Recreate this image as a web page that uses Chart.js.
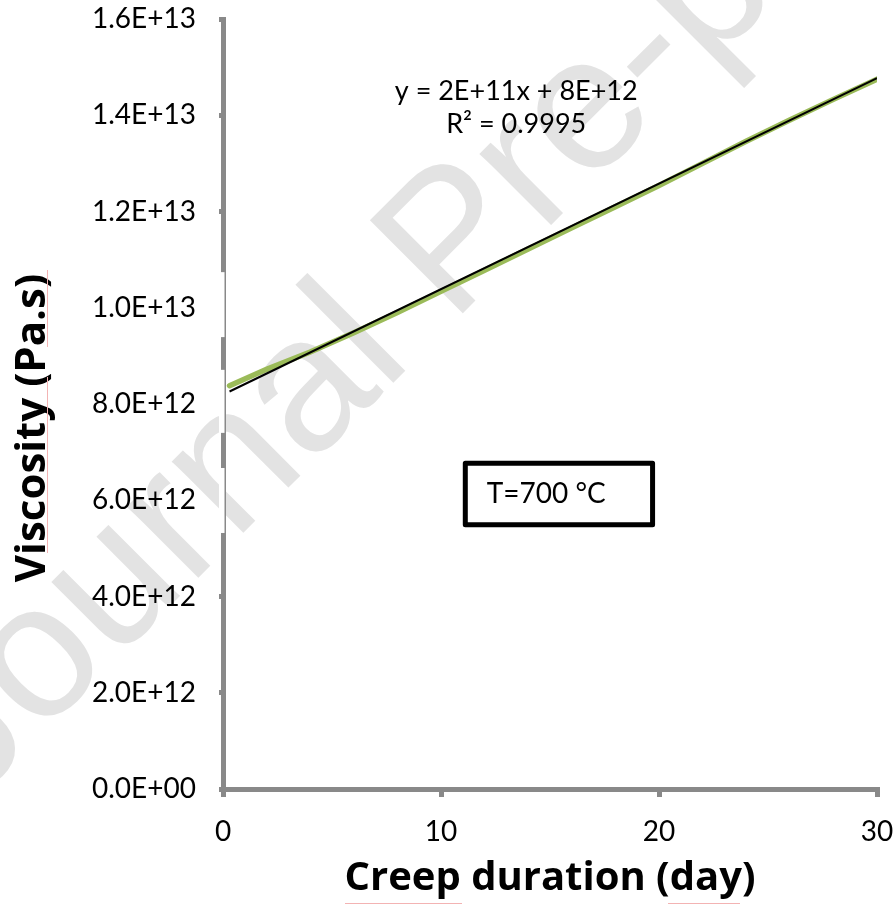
<!DOCTYPE html>
<html><head><meta charset="utf-8">
<script src="https://cdn.jsdelivr.net/npm/chart.js@4"></script>
<style>html,body{margin:0;padding:0;background:#fff}canvas{display:block}</style>
</head><body>
<canvas id="c" width="896" height="911"></canvas>
<script>
// ---- data ----
const creepDays = [0.3, 2, 4, 6, 8, 10, 12, 14, 16, 18, 20, 22, 24, 26, 28, 30];
const viscosity = [8.38e12, 8.72e12, 9.08e12, 9.48e12, 9.90e12, 10.34e12, 10.78e12, 11.22e12,
                   11.66e12, 12.10e12, 12.54e12, 13.00e12, 13.46e12, 13.90e12, 14.33e12, 14.75e12];
const trendDays = [0.3, 30];
const trendViscosity = [8.26e12, 14.77e12];
const xTickValues = [0, 10, 20, 30];
const yTickValues = [0, 2e12, 4e12, 6e12, 8e12, 1e13, 1.2e13, 1.4e13, 1.6e13];
const xTitle = 'Creep duration (day)';
const yTitle = 'Viscosity (Pa.s)';
const equationLines = ['y = 2E+11x + 8E+12', 'R\u00B2 = 0.9995'];
const boxLabel = 'T=700 \u00B0C';
const watermarkText = 'Journal Pre-proof';

const GRAY = '#898989';
const PINK = '#f3b3b3';

function sci(v) {
  if (v === 0) return '0.0E+00';
  const e = Math.floor(Math.log10(v) + 1e-9);
  const m = v / Math.pow(10, e);
  return m.toFixed(1) + 'E+' + String(e).padStart(2, '0');
}

const decorations = {
  id: 'decorations',
  beforeDraw(chart) {
    const ctx = chart.ctx;
    ctx.save();
    ctx.fillStyle = '#ffffff';
    ctx.fillRect(0, 0, chart.width, chart.height);
    // watermark
    ctx.translate(493, 283);
    ctx.rotate(-Math.PI / 4);
    ctx.font = '191px "Liberation Sans", Arial, sans-serif';
    ctx.fillStyle = '#e3e3e3';
    ctx.textAlign = 'center';
    ctx.textBaseline = 'alphabetic';
    ctx.fillText(watermarkText, 0, 0);
    ctx.restore();
  },
  afterDraw(chart) {
    const ctx = chart.ctx;
    const xs = chart.scales.x, ys = chart.scales.y;
    const X = v => xs.getPixelForValue(v), Y = v => ys.getPixelForValue(v);
    ctx.save();
    // masked part of the y axis (artifact in the reference)
    ctx.fillStyle = '#ffffff';
    const ax = chart.chartArea.left;
    [[10.74e12, 9.39e12], [8.71e12, 7.40e12], [6.67e12, 5.32e12]].forEach(([a, b]) => {
      ctx.fillRect(ax - 4, Y(a), 5.5, Y(b) - Y(a));
    });
    // y axis title
    ctx.save();
    ctx.translate(33, 428);
    ctx.rotate(-Math.PI / 2);
    ctx.fillStyle = '#000';
    ctx.font = 'bold 42px "Open Sans"';
    ctx.textAlign = 'center';
    ctx.textBaseline = 'middle';
    ctx.fillText(yTitle, 0, 0);
    ctx.restore();
    // spell-check underlines seen in the reference
    ctx.strokeStyle = PINK;
    ctx.lineWidth = 1;
    ctx.beginPath();
    ctx.moveTo(47.5, 270); ctx.lineTo(47.5, 347);
    ctx.moveTo(47.5, 377); ctx.lineTo(47.5, 553);
    ctx.moveTo(345, 903.5); ctx.lineTo(462, 903.5);
    ctx.moveTo(668, 903.5); ctx.lineTo(740, 903.5);
    ctx.stroke();
    // equation
    ctx.fillStyle = '#000';
    ctx.font = '27px Lato';
    ctx.textAlign = 'center';
    ctx.textBaseline = 'middle';
    ctx.fillText(equationLines[0], X(13.45), Y(14.5e12));
    ctx.fillText(equationLines[1], X(13.45), Y(14.5e12) + 33);
    // label box
    const l = X(11.0), r = X(19.82), t = Y(6.82e12), b = Y(5.44e12);
    ctx.lineWidth = 5;
    ctx.lineJoin = 'round';
    ctx.strokeStyle = '#000';
    ctx.strokeRect(l + 2.5, t + 2.5, r - l - 5, b - t - 5);
    ctx.font = '28px Lato';
    ctx.textAlign = 'left';
    ctx.fillText(boxLabel, X(12.1), (t + b) / 2);
    ctx.restore();
  }
};

function build() {
  new Chart(document.getElementById('c'), {
    type: 'scatter',
    data: {
      datasets: [
        {
          label: 'Linear trend',
          data: trendDays.map((x, i) => ({ x, y: trendViscosity[i] })),
          showLine: true, borderColor: '#000000', backgroundColor: '#000000',
          borderWidth: 2, pointRadius: 0, tension: 0
        },
        {
          label: 'Viscosity',
          data: creepDays.map((x, i) => ({ x, y: viscosity[i] })),
          showLine: true, borderColor: '#9bbb59', backgroundColor: '#9bbb59',
          borderWidth: 5.5, pointRadius: 0, tension: 0, borderCapStyle: 'round'
        }
      ]
    },
    options: {
      responsive: false, animation: false, devicePixelRatio: 1,
      layout: { padding: { top: 19, right: 19, left: 0, bottom: 0 } },
      plugins: { legend: { display: false }, tooltip: { enabled: false } },
      scales: {
        x: {
          type: 'linear', min: 0, max: 30,
          afterBuildTicks: s => { s.ticks = xTickValues.map(v => ({ value: v })); },
          ticks: { font: { family: 'Lato', size: 28 }, color: '#000', padding: 18, maxRotation: 0 },
          grid: { drawOnChartArea: false, drawTicks: true, tickLength: 8, color: GRAY, lineWidth: 5 },
          border: { color: GRAY, width: 5 },
          title: { display: true, text: xTitle, color: '#000',
                   font: { family: 'Open Sans', size: 40, weight: 'bold' }, padding: { top: 0, bottom: 8 } },
          afterFit: s => { s.height = 122; s.paddingLeft = 0; s.paddingRight = 0; }
        },
        y: {
          type: 'linear', min: 0, max: 1.6e13,
          afterBuildTicks: s => { s.ticks = yTickValues.map(v => ({ value: v })); },
          ticks: { font: { family: 'Lato', size: 28 }, color: '#000', padding: 23, callback: v => sci(v) },
          grid: { drawOnChartArea: false, drawTicks: true, tickLength: 4, color: GRAY, lineWidth: 5 },
          border: { color: GRAY, width: 5 },
          title: { display: false },
          afterFit: s => { s.width = 223; s.paddingTop = 0; s.paddingBottom = 0; }
        }
      }
    },
    plugins: [decorations]
  });
}

const fl = document.fonts ? Promise.all([
  document.fonts.load('28px Lato'), document.fonts.load('bold 40px "Open Sans"'),
  document.fonts.load('191px "Liberation Sans"')
]).catch(() => {}) : Promise.resolve();
fl.then(build, build);
</script>
</body></html>
